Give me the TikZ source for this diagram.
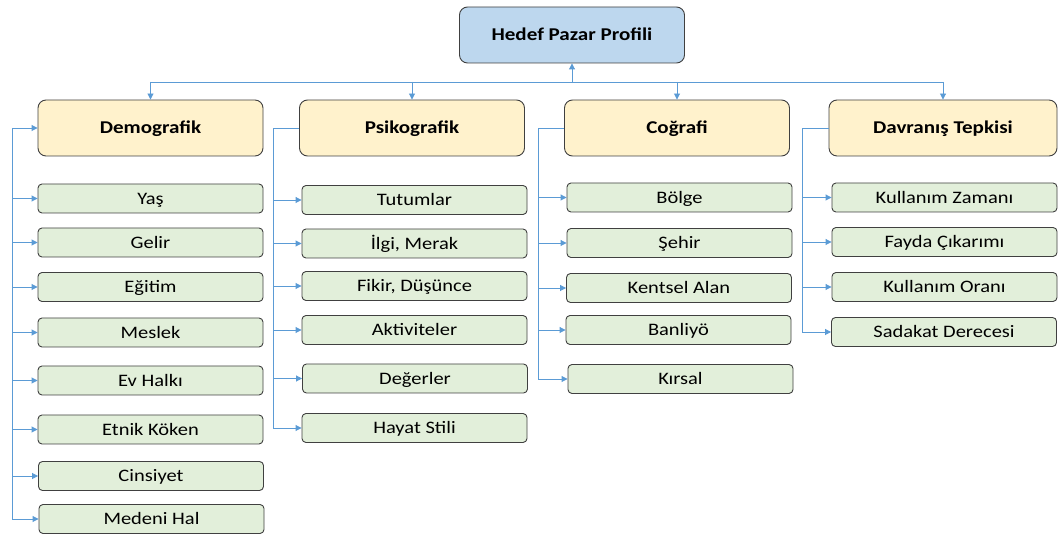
\documentclass[tikz,border=0pt]{standalone}
\usepackage{fontspec}
\setmainfont{Carlito}[FakeStretch=1.17]
\usetikzlibrary{arrows.meta}
\definecolor{linkc}{HTML}{5B9BD5}
\definecolor{topc}{HTML}{BDD7EE}
\definecolor{headc}{HTML}{FFF2CC}
\definecolor{leafc}{HTML}{E2EFDA}
\definecolor{edgec}{HTML}{404040}
\tikzset{
  boxbase/.style={draw=edgec, line width=0.9pt, inner sep=0pt, text depth=0pt},
  topbox/.style={boxbase, fill=topc, rounded corners=8pt, minimum width=225pt, minimum height=56pt, text height=11.6pt, font=\fontsize{18}{20}\selectfont\bfseries},
  headbox/.style={boxbase, fill=headc, rounded corners=8pt, minimum width=225pt, minimum height=56pt, text height=11.6pt, font=\fontsize{18}{20}\selectfont\bfseries},
  leafbox/.style={boxbase, fill=leafc, rounded corners=4pt, minimum width=225pt, minimum height=29pt, text height=11.3pt, font=\fontsize{17.5}{19}\selectfont},
  link/.style={draw=linkc, line width=0.9pt, -{Triangle[length=6pt,width=6pt]}},
  plain/.style={draw=linkc, line width=0.9pt},
}
\begin{document}
\begin{tikzpicture}[x=1pt,y=-1pt]
\useasboundingbox (0,0) rectangle (1061,534);
% top
\node[topbox] (top) at (572,35) {Hedef Pazar Profili};
% headers
\node[headbox] (h1) at (150.5,128) {Demografik};
\node[headbox] (h2) at (412,128) {Psikografik};
\node[headbox] (h3) at (677,128) {Coğrafi};
\node[headbox, minimum width=228pt] (h4) at (943,128) {Davranış Tepkisi};
% bus
\coordinate (bus) at (572,82);
\draw[link] (bus) -- (top.south);
\draw[plain] (bus) -- (150.5,82);
\draw[plain] (bus) -- (943,82);
\draw[link] (150.5,82) -- (h1.north);
\draw[link] (412,82) -- (h2.north);
\draw[link] (677,82) -- (h3.north);
\draw[link] (943,82) -- (h4.north);
% column 1
\node[leafbox] (a1) at (150.5,198.5) {Yaş};
\node[leafbox] (a2) at (150.5,242.5) {Gelir};
\node[leafbox] (a3) at (150.5,287) {Eğitim};
\node[leafbox] (a4) at (150.5,332.5) {Meslek};
\node[leafbox] (a5) at (150.5,380.5) {Ev Halkı};
\node[leafbox] (a6) at (150.5,429.5) {Etnik Köken};
\node[leafbox] (a7) at (151,476) {Cinsiyet};
\node[leafbox] (a8) at (151.5,519) {Medeni Hal};
\coordinate (c1top) at (12,128);
\coordinate (c1bot) at (12,519);
\draw[plain] (c1top) -- (c1bot);
\draw[link] (c1top) -- (h1.west);
\foreach \n in {a1,a2,a3,a4,a5,a6,a7,a8} \draw[link] (12,0 |- \n.west) -- (\n.west);
% column 2
\node[leafbox] (b1) at (414.5,200) {Tutumlar};
\node[leafbox] (b2) at (414.5,243.5) {İlgi, Merak};
\node[leafbox] (b3) at (414.5,286) {Fikir, Düşünce};
\node[leafbox] (b4) at (414.5,330) {Aktiviteler};
\node[leafbox] (b5) at (415,378.5) {Değerler};
\node[leafbox] (b6) at (414.5,428) {Hayat Stili};
\coordinate (c2bot) at (273,428);
\draw[plain] (h2.west) -| (c2bot);
\foreach \n in {b1,b2,b3,b4,b5,b6} \draw[link] (273,0 |- \n.west) -- (\n.west);
% column 3
\node[leafbox] (d1) at (679.5,197.5) {Bölge};
\node[leafbox] (d2) at (679.5,243) {Şehir};
\node[leafbox] (d3) at (679,288) {Kentsel Alan};
\node[leafbox] (d4) at (678.5,330) {Banliyö};
\node[leafbox] (d5) at (680.5,379) {Kırsal};
\coordinate (c3bot) at (538,379);
\draw[plain] (h3.west) -| (c3bot);
\foreach \n in {d1,d2,d3,d4,d5} \draw[link] (538,0 |- \n.west) -- (\n.west);
% column 4
\node[leafbox] (e1) at (944.5,197.5) {Kullanım Zamanı};
\node[leafbox] (e2) at (944.5,242) {Fayda Çıkarımı};
\node[leafbox] (e3) at (944.5,287) {Kullanım Oranı};
\node[leafbox] (e4) at (944,332) {Sadakat Derecesi};
\coordinate (c4bot) at (802,332);
\draw[plain] (h4.west) -| (c4bot);
\foreach \n in {e1,e2,e3,e4} \draw[link] (802,0 |- \n.west) -- (\n.west);
\end{tikzpicture}
\end{document}
